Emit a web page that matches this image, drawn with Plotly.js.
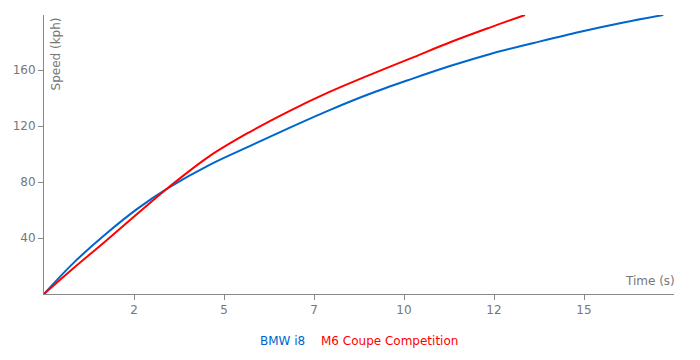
<!DOCTYPE html>
<html>
<head>
<meta charset="utf-8">
<script src="https://cdn.plot.ly/plotly-3.0.1.min.js"></script>
<style>html,body{margin:0;padding:0;background:#fff;}#chart{width:700px;height:360px;}</style>
</head>
<body>
<div id="chart"></div>
<script>
// BMW i8
const i8Time  = [0, 0.8, 1.7, 2.6, 3.5, 4.6, 5.7, 6.8, 7.9, 9.0, 10.2, 11.3, 12.4, 13.6, 14.9, 16.1, 17.2];
const i8Speed = [0, 21.7, 42.5, 61, 76.5, 92.3, 105.5, 118.5, 131, 142.5, 153.5, 163, 171.5, 179.3, 187.4, 194, 199.3];
// M6 Coupe Competition
const m6Time  = [0, 0.8, 1.7, 2.6, 3.5, 4.6, 5.7, 6.8, 7.9, 9.0, 10.2, 11.3, 12.4, 13.36];
const m6Speed = [0, 18, 37.5, 57.5, 77, 98.5, 115.5, 130.5, 144, 156, 168.5, 180, 190.5, 199.3];

const xTickVals = [2.5, 5, 7.5, 10, 12.5, 15];
const xTickText = ["2", "5", "7", "10", "12", "15"];
const yTickVals = [40, 80, 120, 160];

const seriesNames = ["BMW i8", "M6 Coupe Competition"];
const seriesColors = ["#0066CC", "#FF0000"];

const grey = "#777777";
const axisLine = "#888888";

const traces = [
  {x: i8Time, y: i8Speed, name: seriesNames[0], type: "scatter", mode: "lines",
   line: {color: seriesColors[0], width: 2, shape: "spline", smoothing: 1}},
  {x: m6Time, y: m6Speed, name: seriesNames[1], type: "scatter", mode: "lines",
   line: {color: seriesColors[1], width: 2, shape: "spline", smoothing: 1}}
];

const layout = {
  width: 700, height: 360,
  margin: {l: 44, r: 26, t: 15, b: 66, pad: 0},
  paper_bgcolor: "#fff", plot_bgcolor: "#fff",
  showlegend: false,
  font: {family: "DejaVu Sans", size: 12, color: grey},
  xaxis: {
    range: [0, 17.5], showgrid: false, zeroline: false,
    showline: true, linecolor: axisLine, linewidth: 1,
    ticks: "outside", ticklen: 5, tickcolor: axisLine,
    tickvals: xTickVals, ticktext: xTickText,
    tickfont: {family: "DejaVu Sans", size: 12, color: grey}
  },
  yaxis: {
    range: [0, 199.3], showgrid: false, zeroline: false,
    showline: true, linecolor: axisLine, linewidth: 1,
    ticks: "outside", ticklen: 5, tickcolor: axisLine,
    tickvals: yTickVals,
    tickfont: {family: "DejaVu Sans", size: 12, color: grey}
  },
  annotations: [
    {text: "Time (s)", xref: "paper", yref: "paper", x: 1, y: 0.047,
     xanchor: "right", yanchor: "middle", xshift: 3, showarrow: false,
     font: {family: "DejaVu Sans", size: 12, color: grey}},
    {text: "Speed (kph)", xref: "paper", yref: "paper", x: 0.019, y: 1,
     xanchor: "center", yanchor: "top", textangle: -90, showarrow: false,
     font: {family: "DejaVu Sans", size: 12, color: grey}},
    {text: seriesNames[0], xref: "paper", yref: "paper", x: 0.379, y: -0.168,
     xanchor: "center", yanchor: "middle", showarrow: false,
     font: {family: "DejaVu Sans", size: 12, color: seriesColors[0]}},
    {text: seriesNames[1], xref: "paper", yref: "paper", x: 0.549, y: -0.168,
     xanchor: "center", yanchor: "middle", showarrow: false,
     font: {family: "DejaVu Sans", size: 12, color: seriesColors[1]}}
  ]
};

Plotly.newPlot("chart", traces, layout, {displayModeBar: false, staticPlot: true});
</script>
</body>
</html>
